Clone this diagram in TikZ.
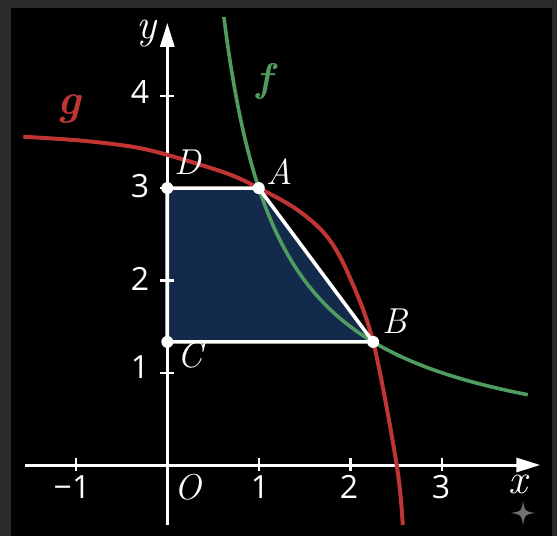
\documentclass[tikz,border=0pt]{standalone}
\usepackage{fontspec}
\setmainfont{Open Sans}
\newfontfamily\labelfont{Latin Modern Roman}
\usetikzlibrary{arrows.meta}

\definecolor{plotred}{RGB}{192,52,52}
\definecolor{plotgreen}{RGB}{80,156,96}
\definecolor{areablue}{RGB}{20,42,76}
\definecolor{framegray}{RGB}{42,42,42}
\definecolor{sparkgray}{RGB}{112,112,112}

\tikzset{
  axisline/.style={white, line width=1.5pt, -{Triangle[length=12pt,width=7pt]}},
  axistick/.style={white, line width=1.2pt},
  ticklabel/.style={text=white, inner sep=0pt, font=\fontsize{16}{16}\selectfont},
  ptlabel/.style={text=white, inner sep=0pt, font=\labelfont\itshape\fontsize{18}{18}\selectfont},
  dot/.style={circle, fill=white, inner sep=0pt, minimum size=6pt},
}

\begin{document}
\begin{tikzpicture}[x=45.75pt, y=46.15pt]
  % Background and frame
  \fill[framegray] (-1.8284,-0.769) rectangle (4.259,5.038);
  \fill[black] (-1.708,-0.769) rectangle (4.2044,4.951);
  \useasboundingbox (-1.8284,-0.769) rectangle (4.259,5.038);

  % Corners of the region
  \coordinate (D) at (0,3);
  \coordinate (A) at (1,3);
  \coordinate (B) at (2.25,1.3333);
  \coordinate (C) at (0,1.3333);

  % Shaded region
  \fill[areablue] (D) -- (A) -- (B) -- (C) -- cycle;

  % Draw axes
  \draw[axisline] (-1.555,0) -- (4.077,0);
  \draw[axisline] (0,-0.653) -- (0,4.79);
  \node[ptlabel, font=\labelfont\itshape\fontsize{21}{21}\selectfont] (xlab) at (3.833,-0.206) {x};
  \node[ptlabel, font=\labelfont\itshape\fontsize{21}{21}\selectfont] (ylab) at (-0.232,4.68) {y};

  % Ticks
  \foreach \x in {-1,1,2,3}
    \draw[axistick] (\x,-0.06) -- (\x,0.08);
  \foreach \y in {1,2,3,4}
    \draw[axistick] (-0.075,\y) -- (0.075,\y);

  % Tick labels
  \foreach \x/\px/\lab in {-1/-1.041/−1, 1/1.014/1, 2/1.986/2, 3/2.991/3}
    \node[ticklabel] (xt\x) at (\px,-0.238) {\lab};
  \foreach \y/\py in {1/1.062, 2/2.015, 3/3.023, 4/4.041}
    \node[ticklabel] (yt\y) at (-0.298,\py) {\y};
  \node[ptlabel] (O) at (0.226,-0.238) {O};

  % f(x) = 3/x
  \draw[plotgreen, line width=1.8pt] plot[domain=0.618:3.94, samples=90] (\x,{3/\x});

  % g, traced through read-off points
  \draw[plotred, line width=2pt] plot[smooth, tension=0.55] coordinates {
    (-1.574,3.557) (-0.936,3.514) (-0.389,3.449) (0,3.36) (0.649,3.16)
    (1,3) (1.414,2.77) (1.742,2.48) (1.978,2.07) (2.25,1.3333)
    (2.507,0) (2.573,-0.65)};

  % Curve names
  \node[text=plotgreen, inner sep=0pt, font=\labelfont\bfseries\itshape\fontsize{20}{20}\selectfont] (fname) at (1.057,4.15) {f};
  \node[text=plotred, inner sep=0pt, font=\labelfont\bfseries\itshape\fontsize{22}{22}\selectfont] (gname) at (-1.074,3.857) {g};

  % Edges of the region
  \draw[white, line width=1.8pt] (D) -- (A) -- (B) -- (C) -- cycle;

  % Corner points
  \foreach \p in {A,B,C,D}
    \node[dot] (dot\p) at (\p) {};

  % Corner labels
  \node[ptlabel] (Dlab) at (0.226,3.283) {D};
  \node[ptlabel] (Alab) at (1.232,3.174) {A};
  \node[ptlabel] (Blab) at (2.489,1.56) {B};
  \node[ptlabel] (Clab) at (0.248,1.192) {C};

  % Sparkle mark
  \fill[sparkgray] (3.888,-0.385) .. controls (3.905,-0.503) .. (4.025,-0.52)
    .. controls (3.905,-0.537) .. (3.888,-0.655)
    .. controls (3.871,-0.537) .. (3.751,-0.52)
    .. controls (3.871,-0.503) .. (3.888,-0.385) -- cycle;
\end{tikzpicture}
\end{document}
